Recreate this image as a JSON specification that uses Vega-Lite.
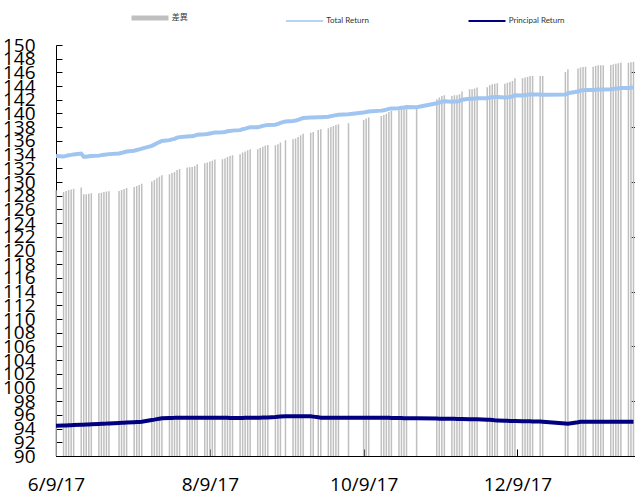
{
  "$schema": "https://vega.github.io/schema/vega-lite/v6.json",
  "width": 580,
  "height": 411,
  "autosize": "none",
  "padding": {"left": 56, "top": 45, "right": 0, "bottom": 38},
  "config": {
    "view": {"stroke": null},
    "font": "Open Sans",
    "axis": {"labelOverlap": false, "labelFlush": false, "labelBound": false, "grid": false}
  },
  "data": {"values": [
    {"date":"2017-06-09T00:00","diff":39.40,"total":133.80,"principal":94.40},
    {"date":"2017-06-12T00:00","diff":39.27,"total":133.72,"principal":94.45},
    {"date":"2017-06-13T00:00","diff":39.34,"total":133.81,"principal":94.47},
    {"date":"2017-06-14T00:00","diff":39.42,"total":133.91,"principal":94.49},
    {"date":"2017-06-15T00:00","diff":39.46,"total":133.96,"principal":94.50},
    {"date":"2017-06-16T00:00","diff":39.51,"total":134.03,"principal":94.52},
    {"date":"2017-06-19T00:00","diff":39.59,"total":134.16,"principal":94.57},
    {"date":"2017-06-20T00:00","diff":39.10,"total":133.68,"principal":94.58},
    {"date":"2017-06-21T00:00","diff":39.10,"total":133.70,"principal":94.60},
    {"date":"2017-06-22T00:00","diff":39.15,"total":133.76,"principal":94.61},
    {"date":"2017-06-23T00:00","diff":39.17,"total":133.80,"principal":94.63},
    {"date":"2017-06-26T00:00","diff":39.17,"total":133.85,"principal":94.68},
    {"date":"2017-06-27T00:00","diff":39.22,"total":133.92,"principal":94.70},
    {"date":"2017-06-28T00:00","diff":39.27,"total":133.99,"principal":94.72},
    {"date":"2017-06-29T00:00","diff":39.30,"total":134.03,"principal":94.73},
    {"date":"2017-06-30T00:00","diff":39.32,"total":134.07,"principal":94.75},
    {"date":"2017-07-04T00:00","diff":39.34,"total":134.16,"principal":94.82},
    {"date":"2017-07-05T00:00","diff":39.42,"total":134.26,"principal":94.84},
    {"date":"2017-07-06T00:00","diff":39.49,"total":134.35,"principal":94.86},
    {"date":"2017-07-07T00:00","diff":39.56,"total":134.44,"principal":94.88},
    {"date":"2017-07-10T00:00","diff":39.63,"total":134.57,"principal":94.94},
    {"date":"2017-07-11T00:00","diff":39.71,"total":134.67,"principal":94.96},
    {"date":"2017-07-12T00:00","diff":39.78,"total":134.76,"principal":94.98},
    {"date":"2017-07-13T00:00","diff":39.88,"total":134.88,"principal":95.00},
    {"date":"2017-07-17T00:00","diff":40.03,"total":135.28,"principal":95.25},
    {"date":"2017-07-18T00:00","diff":40.15,"total":135.46,"principal":95.31},
    {"date":"2017-07-19T00:00","diff":40.27,"total":135.65,"principal":95.38},
    {"date":"2017-07-20T00:00","diff":40.39,"total":135.83,"principal":95.44},
    {"date":"2017-07-21T00:00","diff":40.49,"total":135.99,"principal":95.50},
    {"date":"2017-07-24T00:00","diff":40.56,"total":136.11,"principal":95.55},
    {"date":"2017-07-25T00:00","diff":40.66,"total":136.22,"principal":95.56},
    {"date":"2017-07-26T00:00","diff":40.73,"total":136.30,"principal":95.57},
    {"date":"2017-07-27T00:00","diff":40.88,"total":136.47,"principal":95.59},
    {"date":"2017-07-28T00:00","diff":40.95,"total":136.55,"principal":95.60},
    {"date":"2017-07-31T00:00","diff":41.05,"total":136.65,"principal":95.60},
    {"date":"2017-08-01T00:00","diff":41.07,"total":136.67,"principal":95.60},
    {"date":"2017-08-02T00:00","diff":41.09,"total":136.69,"principal":95.60},
    {"date":"2017-08-03T00:00","diff":41.17,"total":136.77,"principal":95.60},
    {"date":"2017-08-04T00:00","diff":41.29,"total":136.89,"principal":95.60},
    {"date":"2017-08-07T00:00","diff":41.36,"total":136.96,"principal":95.60},
    {"date":"2017-08-08T00:00","diff":41.42,"total":137.02,"principal":95.60},
    {"date":"2017-08-09T00:00","diff":41.49,"total":137.09,"principal":95.60},
    {"date":"2017-08-10T00:00","diff":41.56,"total":137.16,"principal":95.60},
    {"date":"2017-08-11T00:00","diff":41.64,"total":137.24,"principal":95.60},
    {"date":"2017-08-14T00:00","diff":41.66,"total":137.26,"principal":95.60},
    {"date":"2017-08-15T00:00","diff":41.71,"total":137.31,"principal":95.60},
    {"date":"2017-08-16T00:00","diff":41.82,"total":137.40,"principal":95.58},
    {"date":"2017-08-17T00:00","diff":41.90,"total":137.46,"principal":95.56},
    {"date":"2017-08-18T00:00","diff":41.95,"total":137.50,"principal":95.55},
    {"date":"2017-08-21T00:00","diff":42.02,"total":137.57,"principal":95.55},
    {"date":"2017-08-22T00:00","diff":42.15,"total":137.71,"principal":95.56},
    {"date":"2017-08-23T00:00","diff":42.22,"total":137.80,"principal":95.58},
    {"date":"2017-08-24T00:00","diff":42.31,"total":137.90,"principal":95.59},
    {"date":"2017-08-25T00:00","diff":42.39,"total":137.99,"principal":95.60},
    {"date":"2017-08-28T00:00","diff":42.39,"total":137.99,"principal":95.60},
    {"date":"2017-08-29T00:00","diff":42.48,"total":138.08,"principal":95.60},
    {"date":"2017-08-30T00:00","diff":42.58,"total":138.19,"principal":95.61},
    {"date":"2017-08-31T00:00","diff":42.66,"total":138.27,"principal":95.61},
    {"date":"2017-09-01T00:00","diff":42.70,"total":138.32,"principal":95.62},
    {"date":"2017-09-04T00:00","diff":42.68,"total":138.36,"principal":95.68},
    {"date":"2017-09-05T00:00","diff":42.75,"total":138.47,"principal":95.72},
    {"date":"2017-09-06T00:00","diff":42.88,"total":138.64,"principal":95.76},
    {"date":"2017-09-08T00:00","diff":43.04,"total":138.84,"principal":95.80},
    {"date":"2017-09-11T00:00","diff":43.12,"total":138.92,"principal":95.80},
    {"date":"2017-09-12T00:00","diff":43.17,"total":138.97,"principal":95.80},
    {"date":"2017-09-13T00:00","diff":43.28,"total":139.08,"principal":95.80},
    {"date":"2017-09-14T00:00","diff":43.41,"total":139.21,"principal":95.80},
    {"date":"2017-09-15T00:00","diff":43.53,"total":139.33,"principal":95.80},
    {"date":"2017-09-18T00:00","diff":43.60,"total":139.40,"principal":95.80},
    {"date":"2017-09-19T00:00","diff":43.65,"total":139.40,"principal":95.75},
    {"date":"2017-09-21T00:00","diff":43.80,"total":139.45,"principal":95.65},
    {"date":"2017-09-22T00:00","diff":43.85,"total":139.45,"principal":95.60},
    {"date":"2017-09-25T00:00","diff":43.92,"total":139.52,"principal":95.60},
    {"date":"2017-09-26T00:00","diff":44.01,"total":139.61,"principal":95.60},
    {"date":"2017-09-27T00:00","diff":44.09,"total":139.69,"principal":95.60},
    {"date":"2017-09-28T00:00","diff":44.16,"total":139.76,"principal":95.60},
    {"date":"2017-09-29T00:00","diff":44.21,"total":139.81,"principal":95.60},
    {"date":"2017-10-03T00:00","diff":44.28,"total":139.88,"principal":95.60},
    {"date":"2017-10-09T00:00","diff":44.53,"total":140.13,"principal":95.60},
    {"date":"2017-10-10T00:00","diff":44.63,"total":140.23,"principal":95.60},
    {"date":"2017-10-11T00:00","diff":44.70,"total":140.30,"principal":95.60},
    {"date":"2017-10-16T00:00","diff":44.82,"total":140.42,"principal":95.60},
    {"date":"2017-10-17T00:00","diff":44.89,"total":140.48,"principal":95.59},
    {"date":"2017-10-18T00:00","diff":44.99,"total":140.57,"principal":95.58},
    {"date":"2017-10-19T00:00","diff":45.11,"total":140.68,"principal":95.57},
    {"date":"2017-10-20T00:00","diff":45.18,"total":140.74,"principal":95.56},
    {"date":"2017-10-23T00:00","diff":45.23,"total":140.77,"principal":95.54},
    {"date":"2017-10-24T00:00","diff":45.31,"total":140.84,"principal":95.53},
    {"date":"2017-10-25T00:00","diff":45.36,"total":140.88,"principal":95.52},
    {"date":"2017-10-26T00:00","diff":45.43,"total":140.94,"principal":95.51},
    {"date":"2017-10-30T00:00","diff":45.43,"total":140.93,"principal":95.50},
    {"date":"2017-11-07T00:00","diff":46.04,"total":141.50,"principal":95.46},
    {"date":"2017-11-08T00:00","diff":46.16,"total":141.61,"principal":95.45},
    {"date":"2017-11-09T00:00","diff":46.28,"total":141.73,"principal":95.45},
    {"date":"2017-11-10T00:00","diff":46.33,"total":141.77,"principal":95.44},
    {"date":"2017-11-13T00:00","diff":46.28,"total":141.70,"principal":95.42},
    {"date":"2017-11-14T00:00","diff":46.33,"total":141.75,"principal":95.42},
    {"date":"2017-11-15T00:00","diff":46.33,"total":141.74,"principal":95.41},
    {"date":"2017-11-16T00:00","diff":46.40,"total":141.81,"principal":95.41},
    {"date":"2017-11-17T00:00","diff":46.60,"total":142.00,"principal":95.40},
    {"date":"2017-11-20T00:00","diff":46.77,"total":142.15,"principal":95.38},
    {"date":"2017-11-21T00:00","diff":46.77,"total":142.14,"principal":95.37},
    {"date":"2017-11-22T00:00","diff":46.82,"total":142.18,"principal":95.36},
    {"date":"2017-11-23T00:00","diff":46.89,"total":142.24,"principal":95.35},
    {"date":"2017-11-27T00:00","diff":46.92,"total":142.22,"principal":95.30},
    {"date":"2017-11-28T00:00","diff":47.06,"total":142.34,"principal":95.28},
    {"date":"2017-11-29T00:00","diff":47.13,"total":142.38,"principal":95.25},
    {"date":"2017-11-30T00:00","diff":47.18,"total":142.40,"principal":95.22},
    {"date":"2017-12-01T00:00","diff":47.20,"total":142.40,"principal":95.20},
    {"date":"2017-12-04T00:00","diff":47.18,"total":142.32,"principal":95.14},
    {"date":"2017-12-05T00:00","diff":47.25,"total":142.38,"principal":95.13},
    {"date":"2017-12-06T00:00","diff":47.30,"total":142.42,"principal":95.12},
    {"date":"2017-12-07T00:00","diff":47.37,"total":142.48,"principal":95.11},
    {"date":"2017-12-08T00:00","diff":47.57,"total":142.67,"principal":95.10},
    {"date":"2017-12-11T00:00","diff":47.57,"total":142.64,"principal":95.07},
    {"date":"2017-12-12T00:00","diff":47.62,"total":142.69,"principal":95.07},
    {"date":"2017-12-13T00:00","diff":47.66,"total":142.72,"principal":95.06},
    {"date":"2017-12-14T00:00","diff":47.74,"total":142.80,"principal":95.06},
    {"date":"2017-12-15T00:00","diff":47.74,"total":142.79,"principal":95.05},
    {"date":"2017-12-18T00:00","diff":47.74,"total":142.76,"principal":95.02},
    {"date":"2017-12-19T00:00","diff":47.74,"total":142.74,"principal":95.00},
    {"date":"2017-12-28T00:00","diff":48.03,"total":142.78,"principal":94.75},
    {"date":"2017-12-29T00:00","diff":48.23,"total":142.95,"principal":94.72},
    {"date":"2018-01-02T00:00","diff":48.28,"total":143.20,"principal":94.92},
    {"date":"2018-01-03T00:00","diff":48.35,"total":143.35,"principal":95.00},
    {"date":"2018-01-04T00:00","diff":48.39,"total":143.39,"principal":95.00},
    {"date":"2018-01-05T00:00","diff":48.42,"total":143.42,"principal":95.00},
    {"date":"2018-01-08T00:00","diff":48.42,"total":143.42,"principal":95.00},
    {"date":"2018-01-09T00:00","diff":48.47,"total":143.47,"principal":95.00},
    {"date":"2018-01-10T00:00","diff":48.52,"total":143.52,"principal":95.00},
    {"date":"2018-01-11T00:00","diff":48.52,"total":143.52,"principal":95.00},
    {"date":"2018-01-12T00:00","diff":48.52,"total":143.52,"principal":95.00},
    {"date":"2018-01-15T00:00","diff":48.54,"total":143.54,"principal":95.00},
    {"date":"2018-01-16T00:00","diff":48.59,"total":143.59,"principal":95.00},
    {"date":"2018-01-17T00:00","diff":48.64,"total":143.64,"principal":95.00},
    {"date":"2018-01-18T00:00","diff":48.66,"total":143.66,"principal":95.00},
    {"date":"2018-01-19T00:00","diff":48.71,"total":143.71,"principal":95.00},
    {"date":"2018-01-22T00:00","diff":48.71,"total":143.71,"principal":95.00},
    {"date":"2018-01-23T00:00","diff":48.75,"total":143.75,"principal":95.00},
    {"date":"2018-01-24T00:00","diff":48.78,"total":143.78,"principal":95.00}
  ]},
  "layer": [
    {
      "mark": {"type": "bar", "size": 1.5},
      "encoding": {
        "x": {
          "field": "date", "type": "temporal",
          "scale": {"domain": [{"year": 2017, "month": 6, "date": 9}, {"year": 2018, "month": 1, "date": 25}], "padding": 0},
          "axis": {
            "title": null, "grid": false,
            "values": [{"year": 2017, "month": 6, "date": 9}, {"year": 2017, "month": 8, "date": 9}, {"year": 2017, "month": 10, "date": 9}, {"year": 2017, "month": 12, "date": 9}],
            "format": "%-m/%-d/%y",
            "tickSize": -7, "labelPadding": 26,
            "labelFontSize": 19, "labelColor": "#000000", "labelFont": "Open Sans",
            "labelOverlap": false, "labelFlush": false, "labelBound": false,
            "domainColor": "#000000", "tickColor": "#000000"
          }
        },
        "y": {
          "field": "diff", "type": "quantitative",
          "scale": {"domain": [20, 50], "zero": false, "nice": false, "padding": 0},
          "axis": {
            "orient": "right", "title": null, "grid": false,
            "values": [20, 24, 28, 32, 36, 40, 44, 48],
            "tickSize": -5, "labels": false,
            "domainColor": "#000000", "tickColor": "#000000"
          }
        },
        "y2": {"datum": 20},
        "color": {
          "datum": "差異",
          "scale": {"domain": ["差異", "Total Return", "Principal Return"], "range": ["#bfbfbf", "#9fc5f0", "#000080"]},
          "legend": {
            "title": null, "orient": "none", "legendX": 90, "legendY": -31,
            "direction": "horizontal", "padding": 0,
            "symbolType": "stroke", "symbolSize": 1369, "symbolStrokeWidth": 2,
            "labelFontSize": 8, "labelFont": "Lato, Noto Sans CJK TC", "labelColor": "#333333",
            "labelOffset": 17.75, "columnPadding": 94.5,
            "encode": {
              "symbols": {
                "update": {
                  "stroke": {"scale": "color", "field": "value"},
                  "strokeWidth": {"signal": "datum.value === '差異' ? 5 : (datum.value === 'Total Return' ? 1.5 : 2)"}
                }
              }
            }
          }
        }
      }
    },
    {
      "layer": [
        {
          "mark": {"type": "line", "strokeWidth": 4},
          "encoding": {
            "x": {"field": "date", "type": "temporal"},
            "y": {
              "field": "total", "type": "quantitative",
              "scale": {"domain": [90, 150], "zero": false, "nice": false},
              "axis": {
                "orient": "left", "title": null, "grid": false,
                "values": [90, 92, 94, 96, 98, 100, 102, 104, 106, 108, 110, 112, 114, 116, 118, 120, 122, 124, 126, 128, 130, 132, 134, 136, 138, 140, 142, 144, 146, 148, 150],
                "tickSize": -6, "labelPadding": 27,
                "labelFontSize": 19, "labelColor": "#000000", "labelFont": "Open Sans",
                "labelOverlap": false, "labelFlush": false, "labelBound": false,
                "domainColor": "#000000", "tickColor": "#000000"
              }
            },
            "color": {"datum": "Total Return"}
          }
        },
        {
          "mark": {"type": "line", "strokeWidth": 4},
          "encoding": {
            "x": {"field": "date", "type": "temporal"},
            "y": {
              "field": "principal", "type": "quantitative",
              "axis": {
                "orient": "left", "title": null, "grid": false,
                "values": [90, 92, 94, 96, 98, 100, 102, 104, 106, 108, 110, 112, 114, 116, 118, 120, 122, 124, 126, 128, 130, 132, 134, 136, 138, 140, 142, 144, 146, 148, 150],
                "tickSize": -6, "labelPadding": 27,
                "labelFontSize": 19, "labelColor": "#000000", "labelFont": "Open Sans",
                "labelOverlap": false, "labelFlush": false, "labelBound": false,
                "domainColor": "#000000", "tickColor": "#000000"
              }
            },
            "color": {"datum": "Principal Return"}
          }
        }
      ]
    }
  ],
  "resolve": {"scale": {"y": "independent"}}
}
